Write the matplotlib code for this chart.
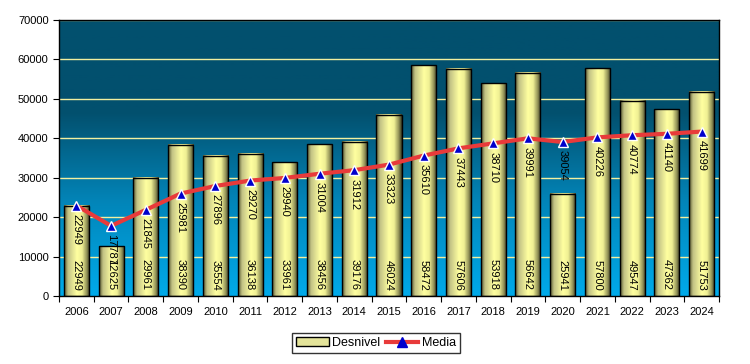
import matplotlib.pyplot as plt
import numpy as np
from matplotlib.colors import LinearSegmentedColormap
from matplotlib.patches import Rectangle
from matplotlib.lines import Line2D

plt.rcParams['font.family'] = ['Liberation Sans', 'DejaVu Sans']

years = ["2006", "2007", "2008", "2009", "2010", "2011", "2012", "2013", "2014", "2015",
         "2016", "2017", "2018", "2019", "2020", "2021", "2022", "2023", "2024"]
desnivel = [22949, 12625, 29961, 38390, 35554, 36138, 33961, 38456, 39176, 46024,
            58472, 57606, 53918, 56642, 25941, 57800, 49547, 47362, 51753]
media = [22949, 17787, 21845, 25981, 27896, 29270, 29940, 31004, 31912, 33323,
         35610, 37443, 38710, 39991, 39054, 40226, 40774, 41140, 41699]

fig = plt.figure(figsize=(7.5, 3.64), dpi=100)
ax = fig.add_axes([59 / 750, 1 - 296 / 364, 660 / 750, 276 / 364])

x = np.arange(len(years))
ax.set_xlim(-0.5, len(years) - 0.5)
ax.set_ylim(0, 70000)

# background gradient of the plot area
bg = LinearSegmentedColormap.from_list("bg", ["#00AAEA", "#0286BA", "#02506E", "#02506E"])
ax.imshow(np.linspace(0, 1, 256).reshape(-1, 1), cmap=bg, origin="lower", aspect="auto",
          extent=[-0.5, len(years) - 0.5, 0, 70000], zorder=0)

for yv in range(10000, 70001, 10000):
    ax.axhline(yv, color="#f2f0a0", lw=1, zorder=1)

# cylinder-like bars
cyl = LinearSegmentedColormap.from_list("cyl", [
    (0.0, "#55552f"), (0.15, "#c2c285"), (0.5, "#ffffa0"),
    (0.7, "#f0f094"), (0.88, "#95955a"), (1.0, "#3a3a20")])
grad = np.linspace(0, 1, 64).reshape(1, -1)
w = 0.72
for xi, v in zip(x, desnivel):
    ax.imshow(grad, cmap=cyl, aspect="auto", extent=[xi - w / 2, xi + w / 2, 0, v], zorder=2)
    ax.add_patch(Rectangle((xi - w / 2, 0), w, v, fill=False, ec="black", lw=1, zorder=3))
    ax.annotate(str(v), (xi, 0), xytext=(0, 4), textcoords="offset points",
                rotation=270, ha="center", va="bottom", fontsize=8, zorder=6)

ax.plot(x, media, color="#e83a3a", lw=3, zorder=4)
ax.plot(x, media, ls="none", marker="^", ms=7, mfc="#0000cc", mec="white", mew=1, zorder=5)
for xi, v in zip(x, media):
    ax.annotate(str(v), (xi, v), xytext=(0, -6), textcoords="offset points",
                rotation=270, ha="center", va="top", fontsize=8, zorder=6)

ax.set_xticks(np.arange(-0.5, len(years), 1), minor=False)
ax.set_xticklabels([])
ax.set_xticks(x, minor=True)
ax.set_xticklabels(years, minor=True, fontsize=8)
ax.tick_params(axis="x", which="minor", length=0, pad=8)
ax.tick_params(axis="x", which="major", length=4, direction="out")
ax.set_yticks(range(0, 70001, 10000))
ax.set_yticklabels([str(t) for t in range(0, 70001, 10000)], fontsize=8)
ax.tick_params(axis="y", length=4, direction="out")
for s in ax.spines.values():
    s.set_color("black")
    s.set_linewidth(1)

handles = [Rectangle((0, 0), 1, 1, fc="#e4e49a", ec="black", lw=1),
           Line2D([0], [0], color="#e83a3a", lw=3, marker="^", ms=7, mfc="#0000cc", mec="#0000cc")]
leg = fig.legend(handles, ["Desnivel", "Media"], loc="center", bbox_to_anchor=(376 / 750, 1 - 343 / 364),
                 ncol=2, fontsize=9, frameon=True, fancybox=False, edgecolor="black",
                 handlelength=2.6, handletextpad=0.3, columnspacing=0.4, borderpad=0.35)
leg.get_frame().set_linewidth(1)

fig.savefig("out.png", dpi=100)
